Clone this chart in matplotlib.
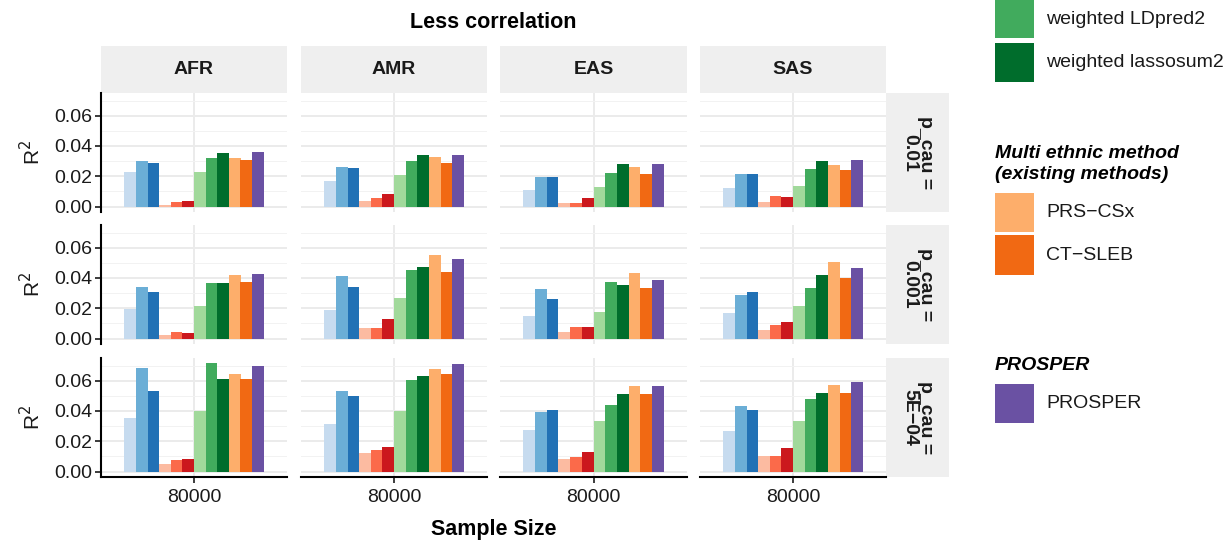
import matplotlib
matplotlib.use("Agg")
import matplotlib.pyplot as plt
from matplotlib.patches import Rectangle
from matplotlib.ticker import MultipleLocator

plt.rcParams["font.family"] = ["Liberation Sans", "DejaVu Sans"]

# ---- data -------------------------------------------------------------
pops = ["AFR", "AMR", "EAS", "SAS"]
p_cau = ["0.01", "0.001", "5E\u221204"]
sample_size = ["80000"]

methods = [
    "C+T", "LDpred2", "lassosum2",
    "Best EUR C+T", "Best EUR LDpred2", "Best EUR lassosum2",
    "weighted C+T", "weighted LDpred2", "weighted lassosum2",
    "PRS\u2212CSx", "CT\u2212SLEB",
    "PROSPER",
]
colors = [
    "#C6DBEF", "#6BAED6", "#2171B5",
    "#FCBBA1", "#FB6A4A", "#CB181D",
    "#A1D99B", "#41AB5D", "#006D2C",
    "#FDAE6B", "#F16913",
    "#6A51A3",
]

# R2 per population (rows) and method (columns)
r2_p01 = [
    [0.0230, 0.0300, 0.0287, 0.0011, 0.0031, 0.0037, 0.0228, 0.0320, 0.0353, 0.0320, 0.0307, 0.0359],
    [0.0171, 0.0263, 0.0256, 0.0039, 0.0059, 0.0085, 0.0210, 0.0302, 0.0342, 0.0329, 0.0289, 0.0342],
    [0.0112, 0.0197, 0.0197, 0.0026, 0.0026, 0.0059, 0.0131, 0.0223, 0.0283, 0.0263, 0.0217, 0.0283],
    [0.0125, 0.0217, 0.0217, 0.0033, 0.0072, 0.0066, 0.0138, 0.0250, 0.0302, 0.0276, 0.0243, 0.0309],
]
r2_p001 = [
    [0.0196, 0.0342, 0.0309, 0.0024, 0.0044, 0.0037, 0.0216, 0.0368, 0.0368, 0.0421, 0.0375, 0.0428],
    [0.0190, 0.0415, 0.0342, 0.0071, 0.0071, 0.0130, 0.0269, 0.0454, 0.0474, 0.0553, 0.0441, 0.0527],
    [0.0150, 0.0329, 0.0262, 0.0044, 0.0077, 0.0077, 0.0176, 0.0375, 0.0355, 0.0434, 0.0335, 0.0388],
    [0.0170, 0.0289, 0.0309, 0.0057, 0.0090, 0.0110, 0.0216, 0.0335, 0.0421, 0.0507, 0.0401, 0.0467],
]
r2_p0005 = [
    [0.0357, 0.0681, 0.0529, 0.0053, 0.0079, 0.0086, 0.0397, 0.0714, 0.0609, 0.0642, 0.0609, 0.0695],
    [0.0316, 0.0534, 0.0501, 0.0124, 0.0144, 0.0164, 0.0402, 0.0607, 0.0634, 0.0674, 0.0641, 0.0713],
    [0.0276, 0.0395, 0.0409, 0.0084, 0.0097, 0.0130, 0.0336, 0.0442, 0.0515, 0.0568, 0.0515, 0.0568],
    [0.0270, 0.0435, 0.0409, 0.0104, 0.0104, 0.0157, 0.0336, 0.0482, 0.0521, 0.0574, 0.0521, 0.0594],
]
r2_rows = [r2_p01, r2_p001, r2_p0005]

# ---- layout (pixels) --------------------------------------------------
W, H = 1231, 542
col_x = [(101, 287), (301, 487), (500, 687), (700, 886)]
row_y = [(93, 212), (225, 344), (358, 477)]
strip_top = 46
strip_right = 949
STRIP = "#EFEFEF"
INK = "#1A1A1A"


def px_box(x0, y0, x1, y1):
    return [x0 / W, 1 - y1 / H, (x1 - x0) / W, (y1 - y0) / H]


fig = plt.figure(figsize=(W / 100, H / 100), dpi=100)
over = fig.add_axes([0, 0, 1, 1], zorder=-1)
over.set_xlim(0, W)
over.set_ylim(H, 0)
over.set_axis_off()

ymax = max(v for rows in r2_rows for pop in rows for v in pop)
pad = 0.05 * ymax
n = len(methods)
bw = 0.9 / n
xpos = [1 + (i - (n - 1) / 2) * bw for i in range(n)]

for r, rows in enumerate(r2_rows):
    for c, pop in enumerate(pops):
        x0, x1 = col_x[c]
        y0, y1 = row_y[r]
        ax = fig.add_axes(px_box(x0, y0, x1, y1))
        ax.bar(xpos, rows[c], width=bw, color=colors, linewidth=0, zorder=3)
        ax.set_xlim(0.4, 1.6)
        ax.set_ylim(-pad, ymax + pad)
        ax.set_xticks([1])
        ax.set_xticklabels(sample_size)
        ax.yaxis.set_major_locator(MultipleLocator(0.02))
        ax.yaxis.set_minor_locator(MultipleLocator(0.01))
        ax.yaxis.set_major_formatter(lambda v, p: f"{v:.2f}")
        ax.set_axisbelow(True)
        ax.grid(which="major", color="#EBEBEB", lw=1.4)
        ax.grid(which="minor", axis="y", color="#F2F2F2", lw=0.7)
        for s in ax.spines.values():
            s.set_visible(False)
        ax.tick_params(which="minor", length=0)
        ax.tick_params(axis="both", labelsize=14, colors=INK, width=1.2, length=4.5, pad=2)
        ax.tick_params(axis="x", pad=4)

        if c == 0:
            ax.spines["left"].set_visible(True)
            ax.spines["left"].set_linewidth(1.5)
            ax.spines["left"].set_color("black")
            ax.set_ylabel("R$^2$", fontsize=15, color=INK, labelpad=7)
        else:
            ax.tick_params(axis="y", length=0, labelleft=False)
        if r == len(r2_rows) - 1:
            ax.spines["bottom"].set_visible(True)
            ax.spines["bottom"].set_linewidth(1.5)
            ax.spines["bottom"].set_color("black")
        else:
            ax.tick_params(axis="x", length=0, labelbottom=False)

# facet strips
for c, pop in enumerate(pops):
    x0, x1 = col_x[c]
    over.add_patch(Rectangle((x0, strip_top), x1 - x0, row_y[0][0] - strip_top,
                             color=STRIP, lw=0))
    over.text((x0 + x1) / 2, (strip_top + row_y[0][0]) / 2, pop, ha="center",
              va="center", fontsize=14, fontweight="bold", color=INK)
for r, p in enumerate(p_cau):
    y0, y1 = row_y[r]
    x0 = col_x[-1][1]
    over.add_patch(Rectangle((x0, y0), strip_right - x0, y1 - y0, color=STRIP, lw=0))
    over.text((x0 + strip_right) / 2, (y0 + y1) / 2, f"p_cau =\n{p}", ha="center",
              va="center", rotation=-90, multialignment="center", linespacing=0.85,
              fontsize=14, fontweight="bold", color=INK)

over.text((col_x[0][0] + col_x[-1][1]) / 2, 22, "Less correlation", ha="center",
          va="center", fontsize=15.5, fontweight="bold", color="black")
over.text((col_x[0][0] + col_x[-1][1]) / 2, 530, "Sample Size", ha="center",
          va="center", fontsize=15.5, fontweight="bold", color="black")

# legend (only the lower groups fit on the canvas)
key_x, key_w, lab_x = 995, 39, 1046
legend_items = [(7, 0, 38), (8, 43, 82), (9, 193, 232), (10, 235, 275), (11, 384, 423)]
for i, ky0, ky1 in legend_items:
    over.add_patch(Rectangle((key_x, ky0), key_w, ky1 - ky0, color=colors[i], lw=0))
    over.text(lab_x, (ky0 + ky1) / 2, methods[i], ha="left", va="center",
              fontsize=14, color=INK)
over.text(key_x, 164, "Multi ethnic method\n(existing methods)", ha="left",
          va="center", fontsize=14, fontweight="bold", fontstyle="italic",
          linespacing=1.3, color="black")
over.text(key_x, 366, "PROSPER", ha="left", va="center", fontsize=14,
          fontweight="bold", fontstyle="italic", color="black")

fig.savefig("out.png", dpi=100)
